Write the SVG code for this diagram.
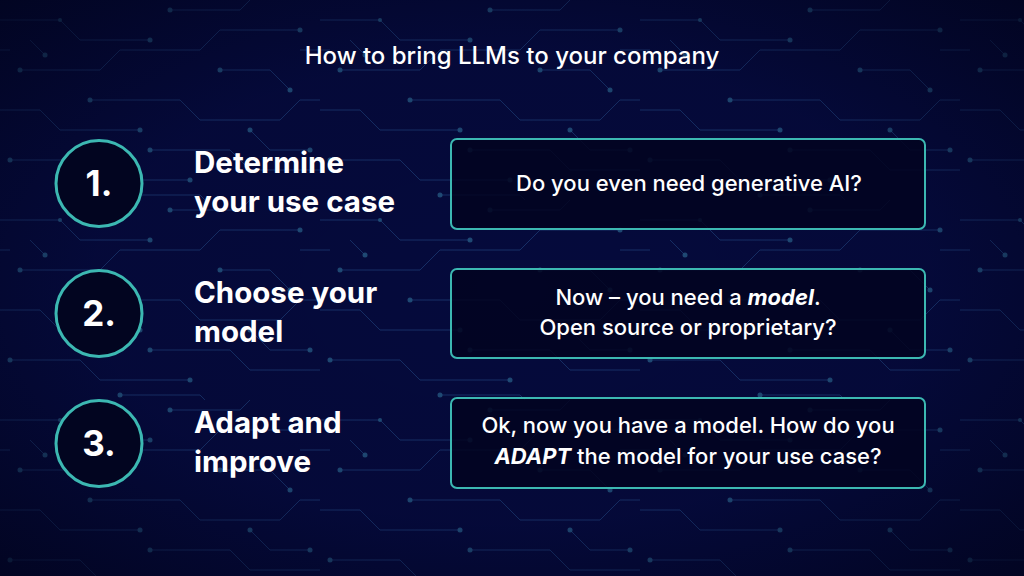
<svg xmlns="http://www.w3.org/2000/svg" width="1024" height="576" viewBox="0 0 1024 576">
  <defs>
    <radialGradient id="vig" cx="0.5" cy="0.5" r="0.75">
      <stop offset="0" stop-color="#01031a" stop-opacity="0"/>
      <stop offset="0.55" stop-color="#01031a" stop-opacity="0.1"/>
      <stop offset="1" stop-color="#01031a" stop-opacity="0.85"/>
    </radialGradient>
    <pattern id="circuit" x="0" y="0" width="320" height="200" patternUnits="userSpaceOnUse">
      <g fill="none" stroke="#1a3872" stroke-width="1" opacity="0.8">
        <path d="M0 20 H60 L80 40 H150"/>
        <path d="M20 70 H100 L120 50 H200 L220 30 H300"/>
        <path d="M170 10 H240 L250 0"/>
        <path d="M0 110 H40 L60 130 H140"/>
        <path d="M90 100 H180 L200 120 H280 L300 100 H320"/>
        <path d="M10 160 H80 L100 180 H190"/>
        <path d="M150 150 H230 L250 170 H320"/>
        <path d="M220 70 H270 L290 90"/>
        <path d="M120 195 H200 L205 200"/>
        <path d="M250 130 L270 150 H310"/>
        <path d="M30 40 L45 55"/>
        <path d="M300 50 H320"/>
        <path d="M0 50 H10"/>
      </g>
      <g fill="#235580" opacity="0.85">
        <circle cx="150" cy="40" r="2.5"/>
        <circle cx="20" cy="70" r="2.5"/>
        <circle cx="300" cy="30" r="2.5"/>
        <circle cx="170" cy="10" r="2.5"/>
        <circle cx="140" cy="130" r="2.5"/>
        <circle cx="90" cy="100" r="2.5"/>
        <circle cx="10" cy="160" r="2.5"/>
        <circle cx="190" cy="180" r="2.5"/>
        <circle cx="150" cy="150" r="2.5"/>
        <circle cx="220" cy="70" r="2.5"/>
        <circle cx="290" cy="90" r="2.5"/>
        <circle cx="120" cy="195" r="2.5"/>
        <circle cx="250" cy="130" r="2.5"/>
        <circle cx="310" cy="150" r="2.5"/>
        <circle cx="45" cy="55" r="2.5"/>
        <circle cx="60" cy="20" r="2"/>
      </g>
    </pattern>
    <style>
      .title { font-family: Inter, "Liberation Sans", sans-serif; font-weight: 500; font-size: 24px; fill: #ffffff; }
      .num { font-family: Inter, "Liberation Sans", sans-serif; font-weight: 700; font-size: 35px; fill: #ffffff; }
      .step { font-family: Inter, "Liberation Sans", sans-serif; font-weight: 700; font-size: 29.5px; fill: #ffffff; }
      .body { font-family: Inter, "Liberation Sans", sans-serif; font-weight: 500; font-size: 22px; fill: #ffffff; }
      .ring { fill: #020520; stroke: #3cb8b2; stroke-width: 3; }
      .box { fill: #020420; fill-opacity: 0.85; stroke: #3cb8b2; stroke-width: 2; }
    </style>
  </defs>

  <rect width="1024" height="576" fill="#050a3c"/>
  <rect width="1024" height="576" fill="url(#circuit)"/>
  <rect width="1024" height="576" fill="url(#vig)"/>

  <text class="title" x="512" y="64" text-anchor="middle">How to bring LLMs to your company</text>

  <g id="step1">
    <circle class="ring" cx="99" cy="183.5" r="43"/>
    <text class="num" x="99" y="196" text-anchor="middle">1.</text>
    <text class="step" x="194" y="173">Determine</text>
    <text class="step" x="194" y="212">your use case</text>
  </g>
  <g id="step2">
    <circle class="ring" cx="99" cy="313.5" r="43"/>
    <text class="num" x="99" y="326" text-anchor="middle">2.</text>
    <text class="step" x="194" y="303">Choose your</text>
    <text class="step" x="194" y="342">model</text>
  </g>
  <g id="step3">
    <circle class="ring" cx="99" cy="443.5" r="43"/>
    <text class="num" x="99" y="456" text-anchor="middle">3.</text>
    <text class="step" x="194" y="433">Adapt and</text>
    <text class="step" x="194" y="472">improve</text>
  </g>

  <g id="box1">
    <rect class="box" x="451" y="139" width="474" height="90" rx="6"/>
    <text class="body" x="689" y="191" text-anchor="middle">Do you even need generative AI?</text>
  </g>
  <g id="box2">
    <rect class="box" x="451" y="269" width="474" height="89" rx="6"/>
    <text class="body" x="688" y="305" text-anchor="middle">Now – you need a <tspan font-style="italic" font-weight="700">model</tspan>.</text>
    <text class="body" x="688" y="335" text-anchor="middle">Open source or proprietary?</text>
  </g>
  <g id="box3">
    <rect class="box" x="451" y="398" width="474" height="90" rx="6"/>
    <text class="body" x="688" y="433" text-anchor="middle">Ok, now you have a model. How do you</text>
    <text class="body" x="688" y="464" text-anchor="middle"><tspan font-style="italic" font-weight="700">ADAPT</tspan> the model for your use case?</text>
  </g>

  <g id="connectors"/>
</svg>
